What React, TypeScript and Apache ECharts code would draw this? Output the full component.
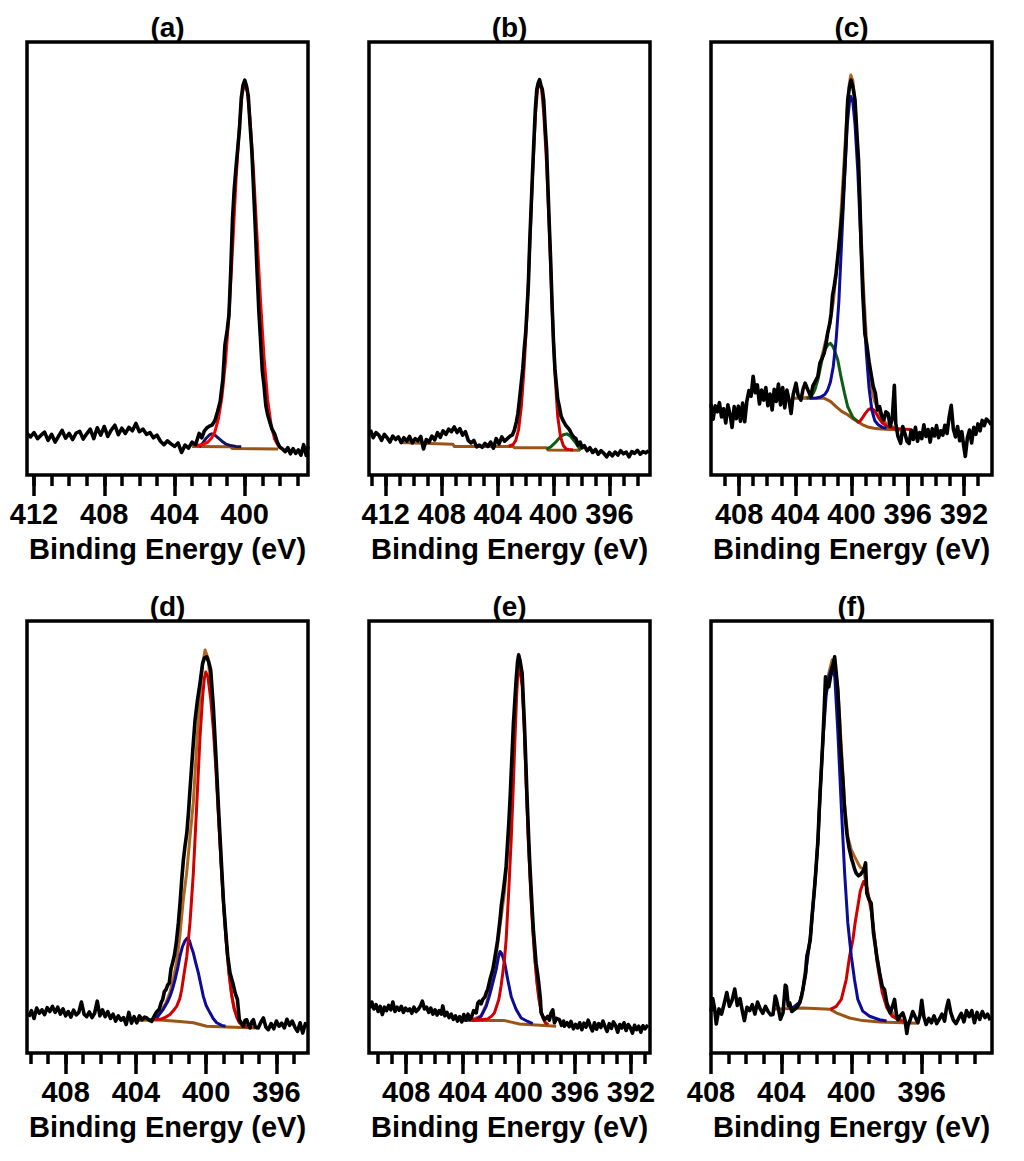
import * as echarts from "echarts";
import { useEffect, useRef } from "react";

type Pt = [number, number];

const FONT = "'Liberation Sans', Arial, sans-serif";
const BLACK = "#000000";
const RED = "#d00000";
const BLUE = "#0c0c96";
const GREEN = "#0f5c14";
const BROWN = "#9a5516";
const ENVELOPE = "#b0661c";

// ---- (a) ----
const rawA: Pt[] = [
  [412.4, 9.6], [412.2, 8.8], [412.0, 9.8], [411.8, 8.4], [411.6, 9.2], [411.4, 9.9], [411.2, 8.0], [411.0, 9.4],
  [410.8, 7.6], [410.6, 9.0], [410.4, 10.3], [410.2, 8.5], [410.0, 9.6], [409.8, 8.2], [409.6, 9.7], [409.4, 10.1],
  [409.2, 8.3], [409.0, 9.5], [408.8, 10.6], [408.6, 8.4], [408.4, 10.9], [408.2, 9.2], [408.0, 11.2], [407.8, 8.9],
  [407.6, 10.4], [407.4, 11.5], [407.2, 9.3], [407.0, 10.8], [406.8, 9.6], [406.6, 11.0], [406.4, 10.2], [406.2, 11.9],
  [406.0, 10.0], [405.8, 10.6], [405.6, 9.4], [405.4, 9.8], [405.2, 8.6], [405.0, 9.2], [404.8, 7.8], [404.6, 7.0],
  [404.4, 7.9], [404.2, 7.2], [404.0, 6.6], [403.8, 7.4], [403.6, 5.2], [403.4, 6.9], [403.2, 6.2], [403.0, 7.6],
  [402.8, 7.0], [402.6, 9.6], [402.45, 8.6], [402.3, 10.2], [402.15, 10.9], [402.0, 11.3], [401.85, 11.6], [401.7, 12.6],
  [401.55, 14.6], [401.4, 17.0], [401.25, 22.0], [401.13, 30.0], [401.0, 33.5], [400.9, 37.0], [400.8, 47.0], [400.7, 59.0],
  [400.6, 66.0], [400.5, 71.0], [400.4, 75.5], [400.3, 80.0], [400.2, 87.0], [400.1, 90.0], [400.0, 91.2], [399.9, 89.8],
  [399.8, 87.5], [399.7, 81.0], [399.6, 75.0], [399.5, 66.0], [399.4, 57.0], [399.3, 47.0], [399.2, 38.0], [399.1, 31.0],
  [399.0, 24.0], [398.9, 20.5], [398.8, 16.0], [398.7, 14.0], [398.6, 12.6], [398.45, 10.6], [398.3, 9.5], [398.15, 7.6],
  [398.0, 6.4], [397.85, 6.0], [397.7, 5.4], [397.55, 6.3], [397.4, 4.9], [397.25, 6.1], [397.1, 5.0], [396.95, 5.8],
  [396.8, 4.6], [396.65, 7.0], [396.5, 4.5], [396.4, 6.6],
];
const redA: Pt[] = [
  [402.8, 6.8], [402.4, 7.0], [402.1, 7.6], [401.9, 8.5], [401.7, 10.0], [401.5, 13.0], [401.3, 18.0], [401.1, 26.0],
  [400.9, 37.0], [400.7, 52.0], [400.5, 68.0], [400.3, 81.0], [400.15, 88.0], [400.0, 90.5], [399.85, 88.5], [399.7, 82.0],
  [399.5, 70.0], [399.3, 55.0], [399.1, 40.0], [398.9, 27.0], [398.7, 17.5], [398.5, 11.5], [398.3, 8.3], [398.1, 6.8],
  [397.9, 6.2],
];
const blueA: Pt[] = [
  [402.6, 6.5], [402.4, 7.3], [402.2, 8.5], [402.0, 9.3], [401.88, 9.5], [401.7, 9.2], [401.5, 8.5], [401.3, 7.8],
  [401.1, 7.2], [400.8, 6.8], [400.5, 6.6], [400.2, 6.5],
];
const bgA: Pt[] = [[403.0, 6.6], [400.8, 6.5], [400.7, 6.1], [398.1, 6.0]];
const majorA = [412, 408, 404, 400];
const minorA = [412, 411, 410, 409, 408, 407, 406, 405, 404, 403, 402, 401, 400, 399, 398, 397];

// ---- (b) ----
const rawB: Pt[] = [
  [413.1, 10.4], [412.9, 8.6], [412.7, 9.8], [412.5, 9.2], [412.3, 8.0], [412.1, 9.4], [411.9, 8.6], [411.7, 7.6],
  [411.5, 9.0], [411.3, 8.2], [411.1, 8.8], [410.9, 7.5], [410.7, 8.6], [410.5, 7.8], [410.3, 8.9], [410.1, 7.4],
  [409.9, 8.4], [409.7, 7.9], [409.5, 8.9], [409.3, 6.0], [409.1, 8.2], [408.9, 7.6], [408.7, 9.0], [408.5, 8.1],
  [408.3, 9.8], [408.1, 8.7], [407.9, 10.2], [407.7, 9.4], [407.5, 10.6], [407.3, 10.0], [407.1, 11.1], [406.9, 9.8],
  [406.7, 10.7], [406.5, 9.2], [406.3, 10.0], [406.1, 8.0], [405.9, 7.4], [405.7, 8.0], [405.5, 6.5], [405.3, 6.9],
  [405.1, 6.4], [404.9, 7.3], [404.7, 6.6], [404.5, 7.6], [404.3, 6.2], [404.1, 8.4], [403.9, 7.2], [403.7, 8.8],
  [403.5, 7.8], [403.3, 8.4], [403.1, 9.0], [402.95, 9.2], [402.8, 10.4], [402.65, 12.4], [402.55, 14.2], [402.45, 17.0],
  [402.35, 20.0], [402.2, 24.5], [402.1, 29.0], [402.0, 32.5], [401.9, 38.0], [401.8, 44.0], [401.7, 54.0], [401.6, 62.0],
  [401.5, 70.0], [401.4, 77.5], [401.3, 84.5], [401.2, 89.0], [401.1, 90.5], [401.0, 91.3], [400.9, 90.0], [400.8, 89.0],
  [400.7, 86.5], [400.6, 80.5], [400.5, 75.5], [400.4, 66.5], [400.3, 57.5], [400.2, 49.0], [400.1, 39.0], [400.0, 30.5],
  [399.9, 24.5], [399.8, 21.0], [399.7, 17.5], [399.6, 16.0], [399.45, 13.5], [399.3, 12.5], [399.15, 11.6], [399.0, 11.0],
  [398.85, 10.4], [398.7, 9.4], [398.55, 8.7], [398.4, 8.4], [398.25, 6.9], [398.1, 7.6], [397.95, 6.3], [397.8, 6.8],
  [397.6, 5.6], [397.4, 6.3], [397.2, 5.2], [397.0, 5.9], [396.8, 4.8], [396.6, 5.6], [396.4, 5.0], [396.2, 4.2],
  [396.0, 5.2], [395.8, 4.4], [395.6, 5.3], [395.4, 4.6], [395.2, 5.6], [395.0, 4.9], [394.8, 5.3], [394.6, 4.2],
  [394.4, 5.4], [394.2, 5.0], [394.0, 5.7], [393.8, 4.8], [393.6, 5.4], [393.4, 5.1], [393.2, 5.6],
];
const redB: Pt[] = [
  [403.2, 6.7], [402.9, 7.0], [402.7, 8.0], [402.5, 10.5], [402.3, 16.0], [402.1, 25.0], [401.9, 37.0], [401.7, 53.0],
  [401.5, 69.0], [401.3, 83.0], [401.15, 89.0], [401.0, 90.8], [400.85, 89.0], [400.7, 83.5], [400.5, 72.0], [400.3, 56.5],
  [400.1, 38.5], [399.9, 23.5], [399.7, 13.5], [399.5, 8.8], [399.3, 6.8], [399.1, 6.0], [398.9, 5.9], [398.6, 5.8],
];
const greenB: Pt[] = [
  [400.5, 6.0], [400.2, 6.5], [399.9, 7.4], [399.6, 8.5], [399.3, 9.3], [399.05, 9.5], [398.8, 9.0], [398.5, 7.8],
  [398.2, 6.4], [398.0, 5.8],
];
const bgB: Pt[] = [
  [411.0, 7.5], [407.2, 7.1], [407.1, 6.6], [402.9, 6.6], [402.8, 6.3], [400.5, 6.3], [400.4, 5.8], [398.1, 5.7],
];
const majorB = [412, 408, 404, 400, 396];
const minorB = [413, 412, 411, 410, 409, 408, 407, 406, 405, 404, 403, 402, 401, 400, 399, 398, 397, 396, 395, 394];

// ---- (c) ----
const rawC: Pt[] = [
  [410.0, 16.4], [409.85, 12.9], [409.7, 16.0], [409.55, 14.6], [409.4, 16.7], [409.25, 13.4], [409.1, 15.3], [408.95, 12.0],
  [408.8, 16.2], [408.65, 14.1], [408.5, 11.0], [408.35, 15.8], [408.2, 13.0], [408.05, 15.9], [407.9, 12.4], [407.75, 16.6],
  [407.6, 12.3], [407.45, 17.0], [407.3, 19.5], [407.15, 18.2], [407.0, 22.8], [406.85, 19.0], [406.7, 20.8], [406.55, 16.4],
  [406.4, 19.6], [406.25, 17.3], [406.1, 20.2], [405.95, 16.0], [405.8, 18.7], [405.65, 15.0], [405.5, 19.8], [405.35, 17.0],
  [405.2, 21.0], [405.05, 16.2], [404.9, 20.2], [404.75, 15.5], [404.6, 19.6], [404.45, 17.4], [404.3, 14.2], [404.15, 18.6],
  [403.95, 21.2], [403.8, 18.4], [403.6, 17.3], [403.45, 19.8], [403.3, 21.2], [403.1, 19.6], [402.9, 18.1], [402.75, 20.6],
  [402.6, 21.5], [402.4, 22.7], [402.25, 25.8], [402.1, 26.9], [401.95, 28.1], [401.8, 30.5], [401.7, 32.7], [401.55, 35.0],
  [401.45, 37.3], [401.35, 41.5], [401.25, 43.2], [401.1, 46.6], [400.95, 51.2], [400.8, 56.0], [400.65, 61.2], [400.5, 70.0],
  [400.4, 76.6], [400.27, 86.6], [400.15, 89.5], [400.03, 91.2], [399.9, 89.6], [399.75, 86.6], [399.6, 78.0], [399.5, 72.7],
  [399.4, 63.0], [399.32, 53.5], [399.2, 42.0], [399.05, 32.7], [398.9, 29.8], [398.75, 26.2], [398.65, 24.2], [398.45, 20.4],
  [398.3, 18.9], [398.15, 15.0], [398.0, 15.8], [397.85, 13.6], [397.7, 12.7], [397.55, 14.6], [397.4, 14.2], [397.25, 11.2],
  [397.1, 13.0], [396.95, 20.7], [396.85, 11.9], [396.7, 9.0], [396.5, 7.3], [396.35, 11.2], [396.2, 9.6], [396.05, 7.8],
  [395.9, 7.3], [395.75, 10.4], [395.6, 8.2], [395.45, 11.0], [395.3, 7.8], [395.15, 9.8], [395.0, 8.4], [394.85, 11.6],
  [394.7, 8.9], [394.55, 10.5], [394.4, 7.6], [394.25, 10.7], [394.1, 9.0], [393.95, 11.4], [393.8, 8.6], [393.65, 10.2],
  [393.5, 9.2], [393.35, 11.5], [393.2, 9.6], [393.05, 13.4], [392.9, 16.1], [392.75, 10.6], [392.6, 8.8], [392.45, 11.2],
  [392.3, 7.9], [392.15, 10.0], [392.0, 6.4], [391.9, 4.3], [391.75, 8.6], [391.6, 10.4], [391.45, 7.4], [391.3, 11.0],
  [391.15, 9.4], [391.0, 11.8], [390.85, 10.2], [390.7, 12.6], [390.55, 11.4], [390.4, 12.9], [390.2, 12.3], [390.05, 11.6],
];
const blueC: Pt[] = [
  [403.0, 17.7], [402.5, 17.8], [402.2, 18.0], [401.9, 18.6], [401.7, 19.6], [401.5, 21.5], [401.3, 25.0], [401.1, 31.0],
  [400.9, 40.0], [400.7, 54.0], [400.5, 68.0], [400.3, 81.0], [400.15, 86.0], [400.05, 87.4], [399.9, 86.0], [399.75, 81.0],
  [399.55, 70.0], [399.35, 55.0], [399.15, 40.0], [398.95, 28.5], [398.75, 20.0], [398.55, 15.0], [398.35, 12.6], [398.1, 11.6],
  [397.8, 11.0], [397.5, 10.8],
];
const greenC: Pt[] = [
  [403.2, 17.7], [402.88, 18.0], [402.6, 19.8], [402.4, 21.9], [402.2, 25.0], [402.05, 27.3], [401.85, 29.2], [401.69, 30.0],
  [401.5, 30.4], [401.35, 29.8], [401.22, 28.9], [400.98, 26.6], [400.75, 22.7], [400.5, 18.9], [400.27, 15.8], [399.9, 13.3],
  [399.5, 12.2],
];
const redC: Pt[] = [
  [399.6, 12.1], [399.4, 12.4], [399.2, 13.3], [399.0, 14.3], [398.8, 15.1], [398.62, 15.4], [398.4, 15.0], [398.2, 14.0],
  [398.0, 12.9], [397.8, 12.0], [397.5, 11.3], [397.0, 10.8], [396.4, 10.6], [395.8, 10.5],
];
const envC: Pt[] = [
  [403.5, 17.8], [403.0, 18.0], [402.7, 19.0], [402.4, 22.5], [402.1, 27.5], [401.8, 31.5], [401.5, 35.5], [401.3, 40.0],
  [401.1, 46.0], [400.9, 53.0], [400.7, 63.0], [400.5, 74.0], [400.3, 85.0], [400.15, 90.5], [400.05, 92.4], [399.9, 91.0],
  [399.75, 86.0], [399.55, 74.5], [399.35, 58.5], [399.15, 43.5], [398.95, 32.0], [398.75, 24.5], [398.55, 19.5], [398.35, 17.0],
  [398.1, 15.0], [397.8, 13.0], [397.5, 11.8], [397.0, 11.0],
];
const bgC: Pt[] = [
  [404.1, 17.7], [401.93, 17.7], [401.5, 17.0], [401.1, 15.8], [400.7, 14.7], [400.27, 13.9], [399.9, 13.0], [399.56, 12.3],
  [399.2, 11.6], [398.85, 11.1], [398.4, 10.8], [397.9, 10.6], [396.5, 10.4],
];
const majorC = [408, 404, 400, 396, 392];
const minorC = [409, 408, 407, 406, 405, 404, 403, 402, 401, 400, 399, 398, 397, 396, 395, 394, 393, 392, 391];

// ---- (d) ----
const rawD: Pt[] = [
  [410.1, 8.4], [409.95, 9.8], [409.8, 8.0], [409.65, 10.4], [409.5, 9.2], [409.35, 10.0], [409.2, 8.9], [409.05, 10.5],
  [408.9, 9.6], [408.75, 10.8], [408.6, 9.4], [408.45, 10.6], [408.3, 9.0], [408.15, 10.2], [408.0, 8.6], [407.85, 9.6],
  [407.7, 8.3], [407.55, 9.9], [407.4, 8.8], [407.25, 9.4], [407.1, 11.8], [406.95, 9.0], [406.8, 8.4], [406.65, 9.5],
  [406.5, 8.2], [406.35, 9.2], [406.2, 12.0], [406.05, 8.6], [405.9, 10.0], [405.75, 8.4], [405.6, 9.6], [405.45, 8.0],
  [405.3, 9.0], [405.15, 7.4], [405.0, 8.6], [404.85, 7.6], [404.7, 8.2], [404.55, 6.6], [404.4, 9.4], [404.25, 6.9],
  [404.1, 8.4], [403.95, 7.0], [403.8, 8.6], [403.65, 7.7], [403.5, 8.3], [403.38, 8.1], [403.25, 7.6], [403.1, 7.3],
  [403.0, 8.2], [402.91, 8.9], [402.8, 9.6], [402.67, 10.1], [402.55, 11.8], [402.47, 12.4], [402.38, 14.2], [402.28, 14.7],
  [402.18, 15.8], [402.1, 16.2], [402.0, 19.5], [401.9, 21.0], [401.8, 22.8], [401.7, 25.5], [401.58, 30.1], [401.48, 35.0],
  [401.39, 40.1], [401.3, 44.5], [401.2, 48.0], [401.1, 50.9], [401.0, 56.0], [400.92, 60.9], [400.84, 65.5], [400.76, 70.1],
  [400.63, 77.1], [400.5, 81.5], [400.35, 85.6], [400.2, 90.2], [400.1, 91.4], [399.97, 91.7], [399.85, 90.5], [399.74, 88.6],
  [399.59, 80.1], [399.44, 68.6], [399.3, 57.0], [399.15, 45.5], [399.02, 35.5], [398.88, 27.8], [398.77, 22.4], [398.64, 18.5],
  [398.48, 16.2], [398.35, 13.9], [398.22, 12.4], [398.11, 7.7], [398.0, 7.0], [397.88, 6.2], [397.78, 7.6], [397.69, 7.7],
  [397.6, 6.6], [397.5, 5.8], [397.4, 7.2], [397.31, 7.7], [397.2, 6.0], [397.03, 5.8], [396.9, 7.0], [396.74, 8.1],
  [396.6, 6.0], [396.46, 5.4], [396.3, 6.8], [396.15, 5.6], [396.0, 7.4], [395.85, 6.2], [395.7, 6.9], [395.55, 5.8],
  [395.4, 7.8], [395.25, 6.4], [395.1, 7.4], [394.95, 6.0], [394.8, 5.0], [394.65, 7.0], [394.5, 4.6], [394.35, 6.8],
  [394.25, 6.0],
];
const redD: Pt[] = [
  [403.0, 7.8], [402.6, 7.8], [402.3, 8.3], [402.06, 8.9], [401.85, 9.9], [401.68, 10.8], [401.5, 12.6], [401.39, 14.7],
  [401.25, 18.5], [401.1, 22.4], [400.92, 30.1], [400.73, 41.6], [400.54, 57.0], [400.35, 73.0], [400.2, 82.5], [400.1, 86.8],
  [400.02, 88.2], [399.9, 87.0], [399.74, 82.0], [399.59, 75.0], [399.44, 65.5], [399.3, 55.0], [399.15, 44.0], [399.0, 34.0],
  [398.85, 25.5], [398.7, 18.5], [398.55, 13.5], [398.4, 10.2], [398.25, 8.2], [398.1, 7.0], [397.9, 6.2], [397.6, 6.0],
];
const blueD: Pt[] = [
  [403.2, 7.6], [402.82, 8.1], [402.44, 10.1], [402.2, 11.8], [402.06, 13.1], [401.9, 15.0], [401.77, 17.0], [401.6, 20.0],
  [401.49, 22.4], [401.35, 24.6], [401.2, 26.0], [401.07, 26.6], [400.95, 26.0], [400.85, 24.6], [400.73, 23.2], [400.6, 21.0],
  [400.44, 18.5], [400.3, 15.8], [400.16, 13.1], [400.0, 11.0], [399.78, 9.3], [399.6, 8.0], [399.4, 7.0], [399.11, 6.4],
  [398.9, 6.2],
];
const envD: Pt[] = [
  [403.0, 7.8], [402.6, 9.5], [402.3, 11.5], [402.06, 14.0], [401.85, 17.5], [401.68, 21.0], [401.5, 27.0], [401.3, 35.5],
  [401.1, 42.0], [400.92, 50.0], [400.73, 58.0], [400.54, 71.0], [400.35, 83.0], [400.2, 90.0], [400.06, 93.3], [399.9, 91.5],
  [399.74, 85.5], [399.59, 77.0], [399.44, 66.5], [399.3, 55.5], [399.15, 44.0], [399.0, 34.0], [398.85, 25.5], [398.7, 18.5],
  [398.55, 13.5], [398.4, 10.2], [398.1, 7.0], [397.6, 6.0],
];
const bgD: Pt[] = [
  [403.9, 7.5], [402.8, 7.7], [401.5, 7.3], [400.73, 7.0], [399.97, 6.2], [398.83, 6.0], [397.1, 5.8],
];
const majorD = [408, 404, 400, 396];
const minorD = [410, 409, 408, 407, 406, 405, 404, 403, 402, 401, 400, 399, 398, 397, 396, 395];

// ---- (e) ----
const rawE: Pt[] = [
  [410.6, 10.4], [410.45, 11.8], [410.3, 10.2], [410.15, 11.2], [410.0, 9.6], [409.85, 10.8], [409.7, 8.9], [409.55, 10.6],
  [409.4, 9.8], [409.25, 11.0], [409.1, 10.0], [408.95, 11.8], [408.8, 9.6], [408.65, 10.6], [408.5, 9.9], [408.35, 10.8],
  [408.2, 9.4], [408.05, 10.4], [407.9, 9.8], [407.75, 10.2], [407.6, 9.2], [407.45, 10.6], [407.3, 9.6], [407.15, 10.1],
  [407.0, 10.8], [406.85, 12.0], [406.7, 10.2], [406.55, 10.6], [406.4, 9.4], [406.25, 10.4], [406.1, 9.0], [405.95, 10.0],
  [405.8, 8.8], [405.65, 9.8], [405.5, 9.0], [405.4, 10.9], [405.25, 8.6], [405.1, 9.4], [404.95, 8.2], [404.8, 9.0],
  [404.65, 7.8], [404.5, 8.6], [404.35, 7.4], [404.2, 8.4], [404.05, 7.2], [403.9, 8.9], [403.75, 7.6], [403.6, 9.0],
  [403.5, 7.8], [403.38, 8.1], [403.2, 9.8], [403.02, 9.3], [402.9, 11.6], [402.79, 12.0], [402.67, 11.4], [402.55, 12.4],
  [402.4, 13.0], [402.3, 14.0], [402.2, 14.7], [402.0, 17.5], [401.84, 19.3], [401.72, 21.5], [401.6, 23.9], [401.5, 26.0],
  [401.41, 28.5], [401.32, 31.0], [401.24, 33.9], [401.08, 37.8], [400.98, 40.5], [400.89, 43.2], [400.8, 48.0], [400.7, 53.2],
  [400.6, 59.5], [400.53, 64.8], [400.45, 70.5], [400.37, 76.3], [400.27, 81.5], [400.18, 86.3], [400.08, 90.5], [400.0, 92.1],
  [399.9, 90.8], [399.75, 87.9], [399.67, 82.0], [399.59, 76.3], [399.5, 68.5], [399.42, 60.9], [399.35, 55.0], [399.28, 49.3],
  [399.2, 43.5], [399.11, 37.8], [399.03, 33.0], [398.95, 28.5], [398.85, 24.5], [398.76, 20.8], [398.66, 18.5], [398.57, 16.2],
  [398.45, 12.4], [398.4, 9.3], [398.3, 8.6], [398.17, 7.7], [398.05, 8.0], [397.93, 8.5], [397.81, 7.6], [397.69, 9.3],
  [397.57, 10.0], [397.45, 7.0], [397.3, 8.0], [397.1, 7.7], [396.95, 6.4], [396.8, 7.4], [396.74, 6.2], [396.55, 7.0],
  [396.4, 6.1], [396.27, 7.3], [396.1, 5.6], [395.95, 6.6], [395.8, 5.8], [395.65, 7.0], [395.5, 5.4], [395.35, 6.9],
  [395.2, 6.0], [395.05, 7.6], [394.9, 6.2], [394.75, 5.1], [394.6, 7.0], [394.45, 5.5], [394.3, 6.8], [394.15, 5.9],
  [394.0, 7.4], [393.85, 6.1], [393.7, 5.0], [393.55, 6.8], [393.4, 5.7], [393.25, 7.2], [393.1, 6.4], [392.95, 4.8],
  [392.8, 6.6], [392.65, 5.8], [392.5, 7.0], [392.35, 5.2], [392.2, 6.6], [392.05, 5.9], [391.9, 4.6], [391.75, 6.4],
  [391.6, 5.4], [391.45, 6.2], [391.3, 4.8], [391.15, 6.3], [391.0, 5.6], [390.8, 6.5],
];
const redE: Pt[] = [
  [403.5, 7.7], [402.79, 7.7], [402.2, 7.9], [401.9, 8.6], [401.72, 9.3], [401.55, 11.0], [401.41, 12.4], [401.25, 15.5],
  [401.13, 18.5], [401.0, 22.0], [400.89, 26.2], [400.7, 37.8], [400.53, 49.3], [400.4, 60.0], [400.27, 72.0], [400.15, 82.0],
  [400.05, 88.5], [400.0, 89.6], [399.9, 88.5], [399.75, 85.0], [399.6, 75.0], [399.45, 61.0], [399.3, 48.5], [399.15, 38.0],
  [399.0, 29.0], [398.85, 22.0], [398.7, 16.5], [398.55, 12.5], [398.4, 9.6], [398.25, 8.0], [398.1, 7.0], [397.9, 6.6],
];
const blueE: Pt[] = [
  [403.3, 7.6], [403.02, 7.7], [402.67, 8.5], [402.31, 10.8], [402.1, 13.0], [401.96, 14.7], [401.78, 17.0], [401.6, 19.3],
  [401.45, 22.0], [401.32, 23.5], [401.2, 23.0], [400.99, 20.8], [400.77, 16.9], [400.53, 13.1], [400.35, 11.5], [400.18, 10.1],
  [399.82, 8.1], [399.35, 7.3], [399.0, 6.8],
];
const envE: Pt[] = [
  [403.3, 7.7], [402.67, 8.6], [402.31, 11.2], [401.96, 15.5], [401.6, 22.5], [401.32, 29.5], [401.0, 37.5], [400.7, 50.5],
  [400.53, 60.0], [400.35, 70.0], [400.18, 84.0], [400.0, 92.3], [399.9, 90.8], [399.75, 86.5], [399.6, 76.0], [399.45, 62.0],
  [399.3, 49.0], [399.15, 38.5], [399.0, 29.2], [398.85, 22.0], [398.7, 16.5], [398.55, 12.5], [398.4, 9.6], [398.1, 7.0],
  [397.9, 6.6],
];
const bgE: Pt[] = [[403.97, 7.5], [401.0, 7.5], [400.6, 7.2], [399.94, 6.7], [398.76, 6.5], [397.33, 6.2]];
const majorE = [408, 404, 400, 396, 392];
const minorE = [410, 409, 408, 407, 406, 405, 404, 403, 402, 401, 400, 399, 398, 397, 396, 395, 394, 393, 392, 391];

// ---- (f) ----
const rawF: Pt[] = [
  [408.0, 9.6], [407.9, 12.6], [407.8, 10.4], [407.7, 6.7], [407.55, 10.2], [407.4, 9.0], [407.25, 11.4], [407.1, 14.0],
  [406.95, 10.8], [406.8, 12.2], [406.65, 14.8], [406.5, 11.0], [406.35, 12.6], [406.2, 9.4], [406.1, 7.5], [405.95, 10.6],
  [405.8, 9.8], [405.65, 11.2], [405.5, 9.0], [405.35, 11.8], [405.2, 10.2], [405.05, 9.2], [404.9, 10.8], [404.75, 9.6],
  [404.6, 8.8], [404.47, 8.9], [404.34, 13.2], [404.28, 12.4], [404.15, 10.0], [404.05, 7.8], [403.9, 9.3], [403.77, 15.7],
  [403.71, 15.4], [403.6, 11.0], [403.52, 11.6], [403.4, 9.6], [403.24, 10.1], [403.1, 10.6], [402.95, 11.6], [402.85, 13.0],
  [402.77, 14.7], [402.61, 18.5], [402.54, 22.4], [402.45, 24.0], [402.35, 26.2], [402.27, 30.5], [402.2, 33.9], [402.12, 37.5],
  [402.04, 41.6], [401.91, 49.3], [401.85, 55.0], [401.78, 60.9], [401.7, 67.0], [401.63, 72.5], [401.55, 80.0], [401.48, 87.1],
  [401.44, 84.0], [401.36, 85.0], [401.29, 84.8], [401.2, 87.0], [401.15, 87.9], [401.05, 90.0], [400.96, 91.7], [400.87, 88.0],
  [400.78, 84.0], [400.7, 78.0], [400.64, 72.5], [400.55, 66.5], [400.49, 63.2], [400.41, 57.5], [400.34, 54.0], [400.27, 51.0],
  [400.21, 49.3], [400.14, 47.5], [400.07, 46.3], [399.99, 44.8], [399.92, 44.0], [399.82, 42.5], [399.73, 41.6], [399.6, 41.0],
  [399.5, 41.3], [399.4, 41.8], [399.3, 42.4], [399.2, 44.0], [399.13, 37.0], [399.0, 35.5], [398.88, 34.7], [398.75, 27.8],
  [398.65, 25.0], [398.56, 22.4], [398.47, 20.2], [398.4, 18.5], [398.25, 15.4], [398.12, 14.7], [397.99, 11.6], [397.9, 10.4],
  [397.8, 9.3], [397.68, 10.6], [397.55, 12.4], [397.45, 9.2], [397.36, 7.7], [397.22, 8.6], [397.08, 9.3], [396.95, 7.6],
  [396.85, 4.5], [396.79, 6.2], [396.65, 7.8], [396.51, 9.6], [396.36, 8.2], [396.22, 7.0], [396.1, 8.8], [396.0, 12.2],
  [395.88, 8.4], [395.75, 6.6], [395.6, 8.0], [395.45, 7.0], [395.3, 8.6], [395.15, 6.8], [395.0, 7.8], [394.85, 9.0],
  [394.7, 7.4], [394.6, 10.2], [394.48, 12.2], [394.35, 9.4], [394.2, 7.6], [394.05, 6.8], [393.9, 8.0], [393.75, 9.2],
  [393.6, 7.2], [393.45, 9.8], [393.3, 8.4], [393.15, 9.8], [393.0, 7.0], [392.85, 9.4], [392.7, 7.8], [392.55, 9.6],
  [392.4, 8.2], [392.25, 9.0], [392.1, 7.6],
];
const blueF: Pt[] = [
  [403.6, 10.5], [403.3, 10.6], [402.95, 11.8], [402.77, 14.5], [402.61, 18.5], [402.45, 23.5], [402.3, 28.5], [402.2, 33.5],
  [402.04, 41.5], [401.91, 49.0], [401.78, 60.5], [401.63, 72.0], [401.45, 82.5], [401.3, 87.0], [401.1, 89.6], [400.95, 87.0],
  [400.78, 74.5], [400.58, 57.0], [400.39, 41.6], [400.21, 30.1], [400.01, 22.4], [399.83, 17.0], [399.64, 12.4], [399.36, 9.7],
  [398.97, 8.5], [398.4, 7.7], [398.0, 7.4],
];
const redF: Pt[] = [
  [401.2, 10.1], [400.87, 10.8], [400.58, 12.4], [400.3, 17.0], [400.11, 22.4], [399.92, 26.2], [399.78, 30.5], [399.64, 33.9],
  [399.5, 37.5], [399.31, 39.7], [399.13, 38.5], [398.88, 33.0], [398.7, 27.0], [398.56, 21.5], [398.4, 17.5], [398.25, 14.0],
  [397.99, 10.5], [397.7, 8.6], [397.3, 7.6], [396.9, 7.2],
];
const envF: Pt[] = [
  [403.3, 10.4], [402.95, 11.6], [402.77, 14.7], [402.54, 22.4], [402.35, 26.2], [402.2, 33.9], [402.04, 41.6], [401.91, 49.3],
  [401.78, 60.9], [401.63, 72.5], [401.44, 84.5], [401.29, 88.0], [401.1, 91.0], [400.96, 90.5], [400.78, 84.5], [400.58, 71.0],
  [400.39, 57.5], [400.21, 50.0], [400.01, 47.0], [399.83, 45.5], [399.64, 44.0], [399.5, 43.0], [399.31, 42.5], [399.13, 38.0],
  [398.88, 33.5], [398.56, 22.5], [398.25, 15.0], [397.99, 11.6], [397.6, 8.8], [397.08, 7.4],
];
const bgF: Pt[] = [
  [404.53, 10.1], [402.77, 10.4], [401.2, 10.1], [400.87, 9.3], [400.11, 8.1], [399.36, 7.5], [398.4, 7.2], [397.08, 7.0],
  [396.28, 6.9],
];
const majorF = [408, 404, 400, 396];
const minorF = [407, 406, 405, 404, 403, 402, 401, 400, 399, 398, 397, 396, 395, 394, 393];

type Line = { data: Pt[]; color: string; width: number };
type Panel = {
  label: string; left: number; top: number; height: number;
  min: number; max: number; major: number[]; minor: number[]; lines: Line[];
};

const W = 281;
const ROW1 = 42;
const ROW2 = 621;
const RAW_W = 3.6;
const FIT_W = 3;

const panels: Panel[] = [
  {
    label: "(a)", left: 27, top: ROW1, height: 433, min: 396.4, max: 412.4, major: majorA, minor: minorA,
    lines: [
      { data: bgA, color: BROWN, width: FIT_W },
      { data: blueA, color: "#14145e", width: FIT_W },
      { data: redA, color: "#ff0000", width: FIT_W },
      { data: rawA, color: BLACK, width: RAW_W },
    ],
  },
  {
    label: "(b)", left: 369, top: ROW1, height: 433, min: 393.1, max: 413.2, major: majorB, minor: minorB,
    lines: [
      { data: bgB, color: BROWN, width: FIT_W },
      { data: greenB, color: GREEN, width: FIT_W },
      { data: redB, color: RED, width: FIT_W },
      { data: rawB, color: BLACK, width: RAW_W },
    ],
  },
  {
    label: "(c)", left: 711, top: ROW1, height: 433, min: 390, max: 410, major: majorC, minor: minorC,
    lines: [
      { data: bgC, color: BROWN, width: FIT_W },
      { data: envC, color: ENVELOPE, width: FIT_W },
      { data: greenC, color: GREEN, width: FIT_W },
      { data: redC, color: RED, width: FIT_W },
      { data: blueC, color: BLUE, width: FIT_W },
      { data: rawC, color: BLACK, width: RAW_W },
    ],
  },
  {
    label: "(d)", left: 27, top: ROW2, height: 432, min: 394.2, max: 410.2, major: majorD, minor: minorD,
    lines: [
      { data: bgD, color: BROWN, width: FIT_W },
      { data: envD, color: ENVELOPE, width: FIT_W },
      { data: blueD, color: BLUE, width: FIT_W },
      { data: redD, color: RED, width: FIT_W },
      { data: rawD, color: BLACK, width: RAW_W },
    ],
  },
  {
    label: "(e)", left: 369, top: ROW2, height: 432, min: 390.65, max: 410.65, major: majorE, minor: minorE,
    lines: [
      { data: bgE, color: BROWN, width: FIT_W },
      { data: envE, color: ENVELOPE, width: FIT_W },
      { data: blueE, color: BLUE, width: FIT_W },
      { data: redE, color: RED, width: FIT_W },
      { data: rawE, color: BLACK, width: RAW_W },
    ],
  },
  {
    label: "(f)", left: 711, top: ROW2, height: 432, min: 392, max: 408, major: majorF, minor: minorF,
    lines: [
      { data: bgF, color: BROWN, width: FIT_W },
      { data: envF, color: ENVELOPE, width: FIT_W },
      { data: redF, color: RED, width: FIT_W },
      { data: blueF, color: BLUE, width: FIT_W },
      { data: rawF, color: BLACK, width: RAW_W },
    ],
  },
];

const tickStyle = { color: BLACK, width: 3.5 };

function buildOption() {
  const grid: any[] = [];
  const xAxis: any[] = [];
  const yAxis: any[] = [];
  const series: any[] = [];
  const graphic: any[] = [];

  panels.forEach((p, i) => {
    grid.push({
      left: p.left, top: p.top, width: W, height: p.height,
      show: true, borderColor: BLACK, borderWidth: 3.5, backgroundColor: "transparent",
      containLabel: false, outerBoundsMode: "none",
    });
    // major ticks + labels + name
    xAxis.push({
      type: "value", gridIndex: i, position: "bottom", min: p.min, max: p.max, inverse: true,
      axisLine: { show: false }, splitLine: { show: false },
      axisTick: { show: true, customValues: p.major, length: 21, lineStyle: tickStyle },
      axisLabel: {
        customValues: p.major, color: BLACK, fontSize: 29, fontWeight: "bold", fontFamily: FONT, margin: 24,
      },
      name: "Binding Energy (eV)", nameLocation: "middle", nameGap: 59,
      nameTextStyle: { color: BLACK, fontSize: 29, fontWeight: "bold", fontFamily: FONT },
    });
    // minor ticks
    xAxis.push({
      type: "value", gridIndex: i, position: "bottom", min: p.min, max: p.max, inverse: true,
      axisLine: { show: false }, splitLine: { show: false }, axisLabel: { show: false },
      axisTick: { show: true, customValues: p.minor, length: 11, lineStyle: tickStyle },
    });
    yAxis.push({ type: "value", gridIndex: i, min: 0, max: 100, show: false });

    p.lines.forEach((l, k) => {
      series.push({
        type: "line", xAxisIndex: i * 2, yAxisIndex: i, data: l.data,
        showSymbol: false, symbol: "none", silent: true, z: 2 + k,
        lineStyle: { color: l.color, width: l.width, join: "round" },
        itemStyle: { color: l.color },
      });
    });

    graphic.push({
      type: "text", x: p.left + W / 2, y: p.top - 15,
      style: {
        text: p.label, fill: BLACK, fontSize: 28, fontWeight: "bold", fontFamily: FONT,
        align: "center", verticalAlign: "middle",
      },
    });
  });

  return { animation: false, backgroundColor: "#ffffff", grid, xAxis, yAxis, series, graphic };
}

export default function App() {
  const ref = useRef<HTMLDivElement | null>(null);

  useEffect(() => {
    document.body.style.margin = "0";
    if (!ref.current) return;
    const chart = echarts.init(ref.current, null, { renderer: "svg" });
    chart.setOption(buildOption());
    return () => {
      chart.dispose();
    };
  }, []);

  return <div ref={ref} style={{ width: 1024, height: 1161 }} />;
}
